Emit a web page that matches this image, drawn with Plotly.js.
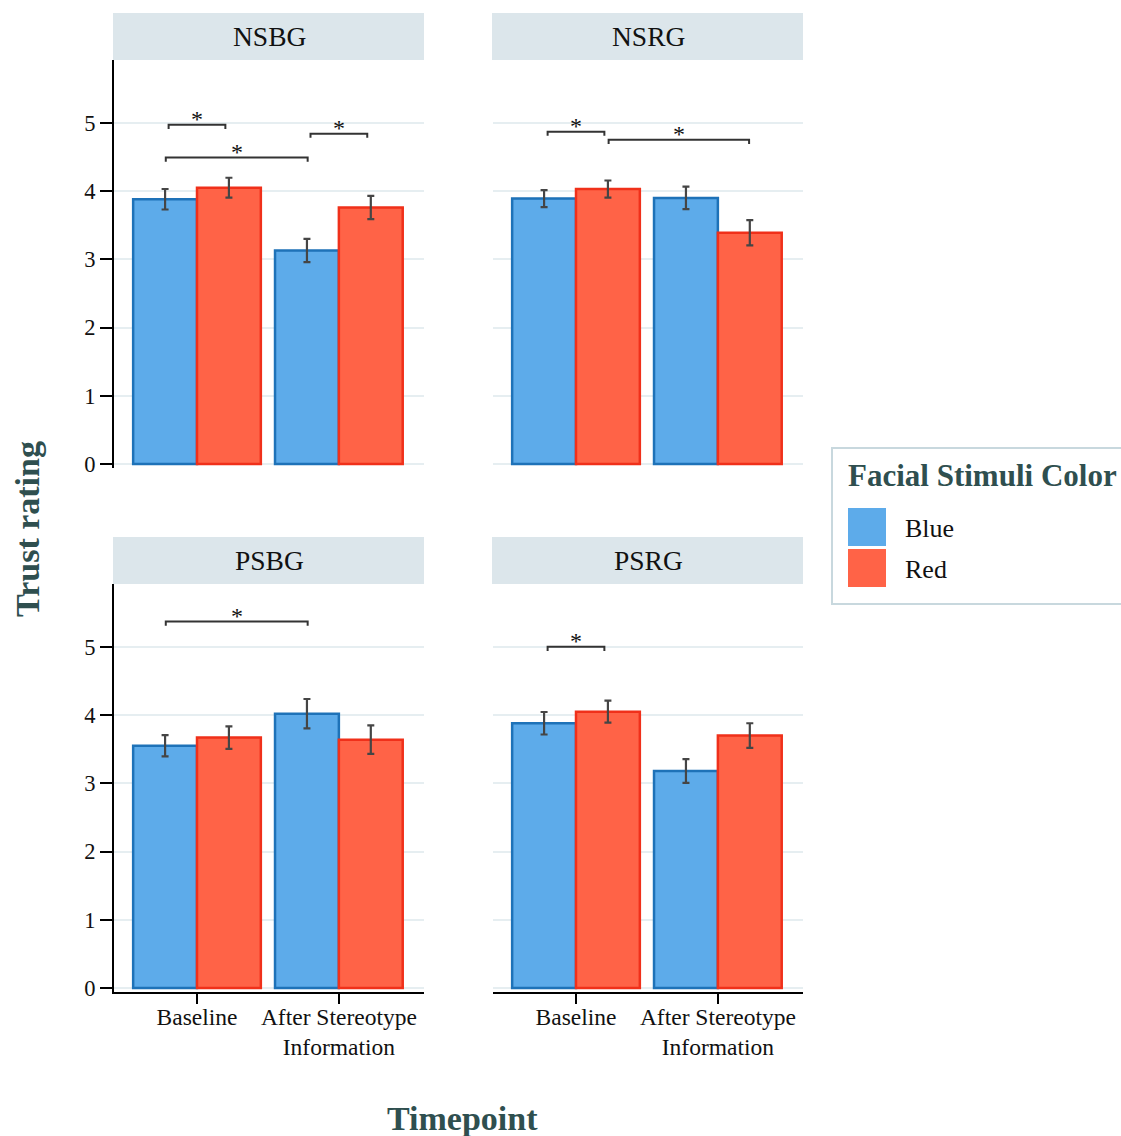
<!DOCTYPE html>
<html>
<head>
<meta charset="utf-8">
<script src="https://cdn.plot.ly/plotly-3.0.1.min.js"></script>
<style>html,body{margin:0;padding:0;background:#fff;}#chart{width:1121px;height:1136px;}</style>
</head>
<body>
<div id="chart"></div>
<script>
// ---- data ----
const panels = ['NSBG', 'NSRG', 'PSBG', 'PSRG'];
const timepoints = ['Baseline', 'After Stereotype<br>Information'];
const colorGroups = ['Blue', 'Red'];
const blueMeans = [[3.88, 3.13], [3.89, 3.90], [3.55, 4.02], [3.88, 3.18]];
const blueErrors = [[0.15, 0.17], [0.125, 0.165], [0.155, 0.215], [0.165, 0.175]];
const redMeans = [[4.05, 3.76], [4.03, 3.39], [3.67, 3.64], [4.05, 3.70]];
const redErrors = [[0.145, 0.17], [0.125, 0.185], [0.165, 0.21], [0.16, 0.18]];
// significance brackets: panel index, start (category units), end, height (rating)
const bracketPanel = [0, 0, 0, 1, 1, 2, 3];
const bracketStart = [-0.2, -0.22, 0.8, -0.2, 0.23, -0.22, -0.2];
const bracketEnd = [0.2, 0.78, 1.2, 0.2, 1.22, 0.78, 0.2];
const bracketHeight = [4.97, 4.49, 4.84, 4.87, 4.75, 5.37, 5.0];
const bracketLabel = ['*', '*', '*', '*', '*', '*', '*'];

// ---- styling ----
const SERIF = 'Liberation Serif, Times New Roman, serif';
const BLUE_FILL = '#5DABEA', BLUE_LINE = '#1E72B8';
const RED_FILL = '#FF6347', RED_LINE = '#F0301A';
const TITLE_COL = '#2F4F4F';
const GRID = '#E6EEF1';
const W = 1121, H = 1136;
const px = v => v / W, py = v => 1 - v / H;

const xDomains = [[px(114), px(424)], [px(493), px(803)], [px(114), px(424)], [px(493), px(803)]];
const yDomains = [[py(467.5), py(60)], [py(467.5), py(60)], [py(991.5), py(584)], [py(991.5), py(584)]];

const traces = [];
const layout = {
  width: W, height: H,
  margin: {l: 0, r: 0, t: 0, b: 0},
  paper_bgcolor: '#fff', plot_bgcolor: '#fff',
  barmode: 'group', bargap: 0.1, bargroupgap: 0,
  showlegend: false,
  font: {family: SERIF, color: '#000', size: 20},
  shapes: [], annotations: []
};

panels.forEach((name, i) => {
  const sfx = i === 0 ? '' : String(i + 1);
  const xa = 'x' + sfx, ya = 'y' + sfx;
  const bottom = i >= 2, left = i % 2 === 0;
  const mk = (means, errs, fill, line, nm) => ({
    type: 'bar', x: timepoints, y: means, name: nm,
    xaxis: xa, yaxis: ya,
    marker: {color: fill, line: {color: line, width: 2.5}},
    error_y: {type: 'data', array: errs, visible: true, color: '#454545', thickness: 2.2, width: 3.5},
    hoverinfo: 'skip'
  });
  traces.push(mk(blueMeans[i], blueErrors[i], BLUE_FILL, BLUE_LINE, colorGroups[0]));
  traces.push(mk(redMeans[i], redErrors[i], RED_FILL, RED_LINE, colorGroups[1]));

  layout['xaxis' + sfx] = {
    domain: xDomains[i], anchor: ya, type: 'category',
    range: [-0.585, 1.6], fixedrange: true,
    showgrid: false, zeroline: false,
    showline: bottom, linecolor: '#000', linewidth: 2,
    ticks: bottom ? 'outside' : '', ticklen: 10, tickwidth: 2, tickcolor: '#000',
    ticklabelstandoff: -7,
    showticklabels: bottom, tickfont: {family: SERIF, size: 23.5, color: '#111'}
  };
  layout['yaxis' + sfx] = {
    domain: yDomains[i], anchor: xa,
    range: [-0.05, 5.92], fixedrange: true,
    tickvals: [0, 1, 2, 3, 4, 5],
    showgrid: true, gridcolor: GRID, gridwidth: 2, zeroline: false,
    showline: left, linecolor: '#000', linewidth: 2,
    ticks: left ? 'outside' : '', ticklen: 12, tickwidth: 2, tickcolor: '#000',
    showticklabels: left, tickfont: {family: SERIF, size: 22.5, color: '#111'}
  };

  // facet strip
  const d = xDomains[i];
  const stripTop = bottom ? 537 : 13, stripBot = bottom ? 584 : 60;
  layout.shapes.push({type: 'rect', xref: 'paper', yref: 'paper',
    x0: d[0] - px(1), x1: d[1], y0: py(stripBot), y1: py(stripTop),
    fillcolor: '#DCE6EB', line: {width: 0}, layer: 'below'});
  layout.annotations.push({xref: 'paper', yref: 'paper', x: (d[0] + d[1]) / 2, y: py((stripTop + stripBot) / 2),
    text: name, showarrow: false, xanchor: 'center', yanchor: 'middle',
    font: {family: SERIF, size: 27.5, color: '#111'}});
});

// significance brackets
bracketPanel.forEach((p, k) => {
  const sfx = p === 0 ? '' : String(p + 1);
  const x0 = bracketStart[k], x1 = bracketEnd[k], y = bracketHeight[k], dip = 0.06;
  layout.shapes.push({type: 'path', xref: 'x' + sfx, yref: 'y' + sfx,
    path: `M ${x0} ${y - dip} L ${x0} ${y} L ${x1} ${y} L ${x1} ${y - dip}`,
    line: {color: '#333', width: 2}});
  layout.annotations.push({xref: 'x' + sfx, yref: 'y' + sfx, x: (x0 + x1) / 2, y: y,
    text: bracketLabel[k], showarrow: false, xanchor: 'center', yanchor: 'bottom', yshift: -9,
    font: {family: SERIF, size: 24, color: '#111'}});
});

// axis titles
layout.annotations.push({xref: 'paper', yref: 'paper', x: px(27), y: py(529), text: '<b>Trust rating</b>',
  showarrow: false, textangle: -90, xanchor: 'center', yanchor: 'middle',
  font: {family: SERIF, size: 34, color: TITLE_COL}});
layout.annotations.push({xref: 'paper', yref: 'paper', x: px(462), y: py(1118), text: '<b>Timepoint</b>',
  showarrow: false, xanchor: 'center', yanchor: 'middle',
  font: {family: SERIF, size: 34, color: TITLE_COL}});

// legend (drawn)
layout.shapes.push({type: 'rect', xref: 'paper', yref: 'paper', x0: px(832), x1: px(1130), y0: py(604), y1: py(448),
  fillcolor: 'rgba(0,0,0,0)', line: {color: '#C8D8DE', width: 2}});
layout.annotations.push({xref: 'paper', yref: 'paper', x: px(846), y: py(475), text: '<b>Facial Stimuli Color</b>',
  showarrow: false, xanchor: 'left', yanchor: 'middle', font: {family: SERIF, size: 31, color: TITLE_COL}});
const legFills = [BLUE_FILL, RED_FILL];
colorGroups.forEach((g, k) => {
  const top = 508 + k * 41;
  layout.shapes.push({type: 'rect', xref: 'paper', yref: 'paper', x0: px(848), x1: px(886), y0: py(top + 38), y1: py(top),
    fillcolor: legFills[k], line: {width: 0}});
  layout.annotations.push({xref: 'paper', yref: 'paper', x: px(903), y: py(top + 20), text: g,
    showarrow: false, xanchor: 'left', yanchor: 'middle', font: {family: SERIF, size: 26, color: '#111'}});
});

Plotly.newPlot('chart', traces, layout, {displayModeBar: false, staticPlot: true});
</script>
</body>
</html>
